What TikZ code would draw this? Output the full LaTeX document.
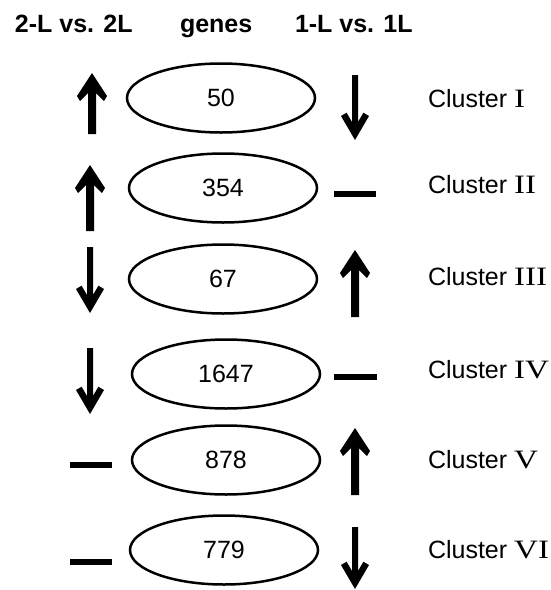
\documentclass[tikz,border=0pt]{standalone}
\usepackage{fontspec}
\setmainfont{Liberation Sans}
\newfontfamily\numeralfont[FakeStretch=1.25]{Liberation Serif}
\usetikzlibrary{shapes.geometric}

% filled up arrow: x, top, bottom
\newcommand\upind[3]{%
  \fill[shift={(#1,#2)}] (0,0) -- (15,23) -- (12,28) -- (4,20) -- (4,#3-#2)
    -- (-4,#3-#2) -- (-4,20) -- (-12,28) -- (-15,23) -- cycle;}
% down arrow with open barb head: x, top, tip
\newcommand\downind[3]{%
  \fill[shift={(#1,#3)}] (0,0) -- (-14,-24) -- (-8.4,-27.3) -- (-3,-18) -- (-3,#2-#3)
    -- (3,#2-#3) -- (3,-18) -- (8.4,-27.3) -- (14,-24) -- cycle;}
% flat bar for "no change": left x, right x, centre y
\newcommand\flatind[3]{%
  \fill (#1,#3-3.3) rectangle (#2,#3+3.3);}
\newcommand\rmnum[1]{{\numeralfont\fontsize{26.5}{30}\selectfont #1}}

\begin{document}
\begin{tikzpicture}[x=1pt,y=-1pt,
  every node/.style={inner sep=0pt,outer sep=0pt},
  head/.style={font=\fontsize{25}{30}\selectfont\bfseries,anchor=base west},
  genebox/.style={ellipse,draw,line width=2.5pt,minimum width=188pt,minimum height=69pt,
    font=\fontsize{25}{30}\selectfont},
  clus/.style={anchor=base west,font=\fontsize{25}{30}\selectfont}]
\useasboundingbox (0,0) rectangle (550,590);

% column headers
\node[head] (hL) at (15,32) {2-L vs. 2L};
\node[head] (hG) at (180,32) {genes};
\node[head] (hR) at (295,32) {1-L vs. 1L};

% gene counts
\node[genebox] (g1) at (221,98) {50};
\node[genebox] (g2) at (223,188) {354};
\node[genebox] (g3) at (223,279) {67};
\node[genebox] (g4) at (226,374) {1647};
\node[genebox] (g5) at (226,460) {878};
\node[genebox] (g6) at (224,550) {779};

% cluster labels
\node[clus] (c1) at (428,107) {Cluster \rmnum{I}};
\node[clus] (c2) at (428,193) {Cluster \rmnum{II}};
\node[clus] (c3) at (428,285) {Cluster \rmnum{III}};
\node[clus] (c4) at (428,378) {Cluster \rmnum{IV}};
\node[clus] (c5) at (428,468) {Cluster \rmnum{V}};
\node[clus] (c6) at (428,558) {Cluster \rmnum{VI}};

% 2-L vs. 2L column
\upind{92}{73}{134}
\upind{90}{165}{231}
\downind{90}{247}{313}
\downind{90}{348}{414}
\flatind{70}{112}{465}
\flatind{70}{112}{562}

% 1-L vs. 1L column
\downind{355}{75}{140}
\flatind{334}{376}{194}
\upind{355}{250}{317}
\flatind{334}{377}{377}
\upind{355}{428}{495}
\downind{355}{527}{589}
\end{tikzpicture}
\end{document}
